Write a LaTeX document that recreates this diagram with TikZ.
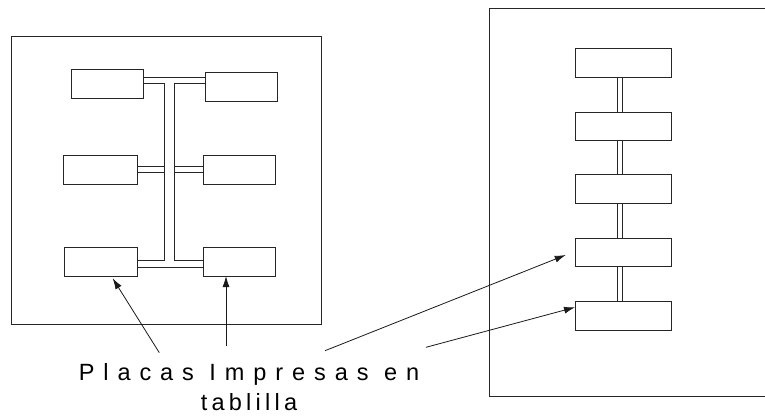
\documentclass[tikz,border=0pt]{standalone}
\usepackage{fontspec}
\setmainfont{Liberation Sans}
\newfontfamily\lineA[LetterSpace=38]{Liberation Sans}
\newfontfamily\lineB[LetterSpace=18]{Liberation Sans}
\usetikzlibrary{arrows.meta}
\begin{document}
\begin{tikzpicture}[x=1pt,y=-1pt,
  ln/.style={draw=black!85, line width=0.8pt},
  board/.style={ln, fill=white, minimum width=#1, minimum height=29pt, inner sep=0pt, outer sep=0pt},
  pointer/.style={draw=black!90, line width=0.8pt, -{Latex[length=11pt,width=7pt]}}]
\useasboundingbox (0,0) rectangle (765,415);

% frames
\draw[ln] (11,36.7) rectangle (321.5,324);
\draw[ln] (765,8.3) -- (489,8.3) -- (489,396) -- (765,396);

% left boards
\node[board=72pt] (tl) at (107,83.5) {};
\node[board=72pt] (tr) at (241,86.5) {};
\node[board=74pt] (ml) at (100,169.5) {};
\node[board=72pt] (mr) at (239,169.5) {};
\node[board=73pt] (bl) at (100.5,261.5) {};
\node[board=72pt] (br) at (239,261.5) {};

% bus reference points
\coordinate (jTop) at (0,77.7);
\coordinate (lt) at (164.3,83.3);
\coordinate (lb) at (164.3,260.7);
\coordinate (rt) at (174,83.3);
\coordinate (rb) at (174,260.7);
\coordinate (m1) at (0,166.7);
\coordinate (m2) at (0,172.3);
\coordinate (jBot) at (0,267.3);

\draw[ln] (tl.east |- jTop) -- (tr.west |- jTop);
\draw[ln] (tl.east |- lt) -- (lt) -- (lb) -- (bl.east |- lb);
\draw[ln] (tr.west |- rt) -- (rt) -- (rb) -- (br.west |- rb);
\draw[ln] (ml.east |- m1) -- (lt |- m1);
\draw[ln] (ml.east |- m2) -- (lt |- m2);
\draw[ln] (rt |- m1) -- (mr.west |- m1);
\draw[ln] (rt |- m2) -- (mr.west |- m2);
\draw[ln] (bl.east |- jBot) -- (br.west |- jBot);

% right boards
\node[board=96pt, minimum height=28.5pt] (r1) at (623,63) {};
\node[board=96pt, minimum height=28.5pt] (r2) at (623,126.5) {};
\node[board=96pt, minimum height=28.5pt] (r3) at (623,189) {};
\node[board=96pt, minimum height=28.5pt] (r4) at (623,252.5) {};
\node[board=96pt, minimum height=28.5pt] (r5) at (623,316) {};

\coordinate (cL) at (617.7,0);
\coordinate (cR) at (622.7,0);
\foreach \a/\b in {r1/r2,r2/r3,r3/r4,r4/r5}{
  \draw[ln] (\a.south -| cL) -- (\b.north -| cL);
  \draw[ln] (\a.south -| cR) -- (\b.north -| cR);
}

% label
\node[anchor=base, align=center, inner sep=0pt, font=\fontsize{23.5}{30}\selectfont] (label) at (249,410.5)
  {\lineA Placas Impresas en\\ \lineB tablilla};

% pointers
\coordinate (t1) at (159.3,352.7);
\coordinate (t2) at (226,346);
\coordinate (t3) at (325,350.7);
\coordinate (t4) at (426,347.3);
\draw[pointer] (t1) -- ([xshift=12.2pt,yshift=-2.3pt]bl.south);
\draw[pointer] (t2) -- ([xshift=-13pt]br.south);
\draw[pointer] (t3) -- ([xshift=-9.3pt,yshift=-2.5pt]r4.west);
\draw[pointer] (t4) -- ([yshift=8.7pt]r5.west);
\end{tikzpicture}
\end{document}
